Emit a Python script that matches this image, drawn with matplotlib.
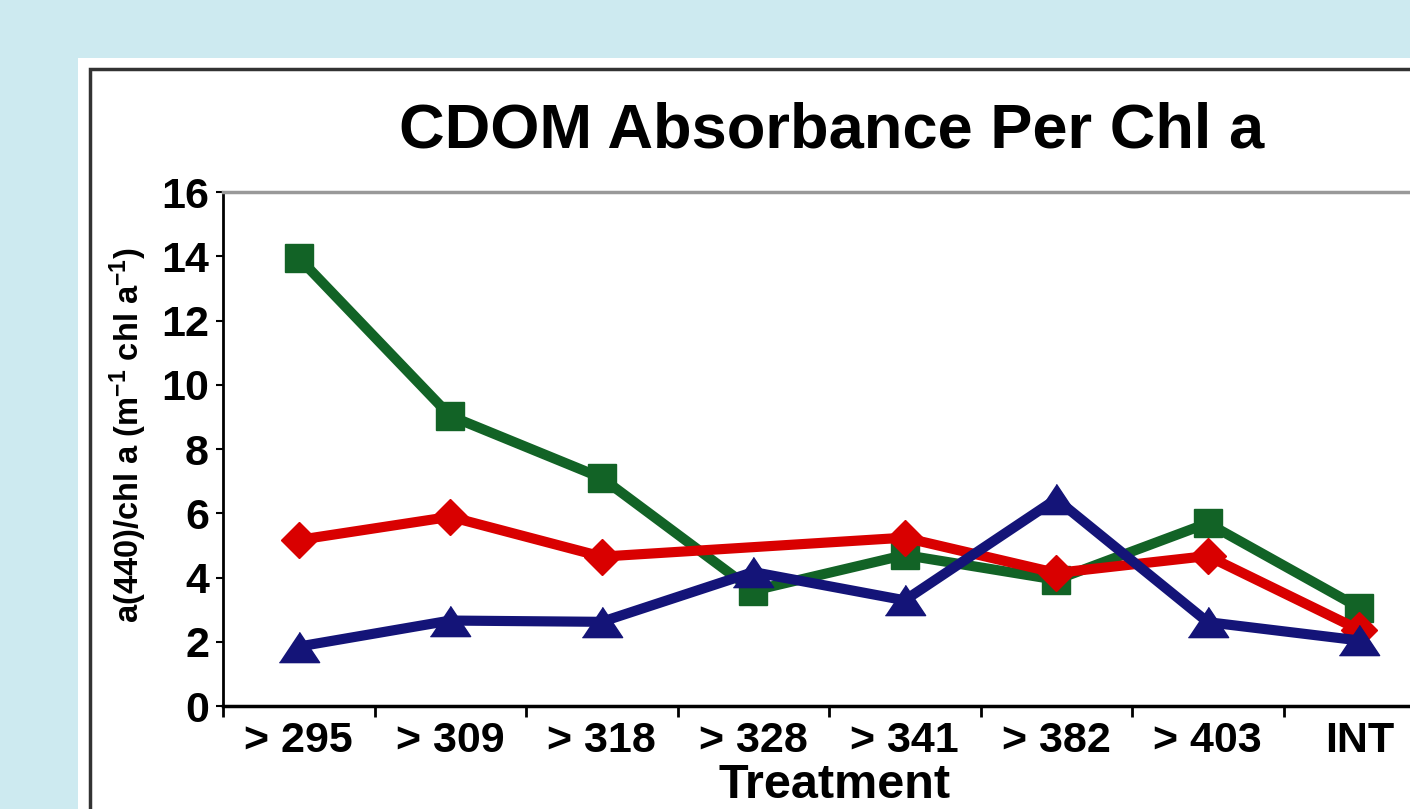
import numpy as np
import matplotlib
import matplotlib.pyplot as plt
from matplotlib.patches import Rectangle

matplotlib.use("Agg")

# data
treatments = ["> 295", "> 309", "> 318", "> 328", "> 341", "> 382", "> 403", "INT"]
green_vals = [13.95, 9.03, 7.10, 3.59, 4.70, 3.93, 5.69, 3.06]
red_vals = [5.17, 5.89, 4.65, np.nan, 5.24, 4.14, 4.67, 2.37]
blue_vals = [1.85, 2.66, 2.62, 4.17, 3.29, 6.44, 2.61, 2.04]
y_ticks = [0, 2, 4, 6, 8, 10, 12, 14, 16]

plt.rcParams["font.family"] = ["Liberation Sans", "DejaVu Sans"]
plt.rcParams["font.weight"] = "bold"
plt.rcParams["mathtext.default"] = "regular"

W, H = 1410, 809
fig = plt.figure(figsize=(W / 100, H / 100), dpi=100)
fig.patch.set_facecolor("#cdeaf0")

# white panel and dark frame (behind the axes)
fig.patches.append(Rectangle((78 / W, -0.1), 1.0, 1 - 58 / H + 0.1,
                             transform=fig.transFigure, facecolor="white",
                             edgecolor="none", zorder=-2))
fig.patches.append(Rectangle((90 / W, -0.1), 1.0, 1 - 69 / H + 0.1,
                             transform=fig.transFigure, facecolor="none",
                             edgecolor="#333333", lw=2.5, zorder=-1))

step = 151.5
ax = fig.add_axes([223 / W, 1 - 706 / H, 8 * step / W, (706 - 192) / H])
ax.set_facecolor("none")

x = np.arange(len(treatments))
tri = [(-1, -0.75), (1, -0.75), (0, 0.75)]

ax.plot(x, green_vals, color="#126326", lw=7.3, marker="s", ms=19.5,
        solid_joinstyle="miter", zorder=3, clip_on=False)
red = np.array(red_vals)
ok = ~np.isnan(red)
ax.plot(x[ok], red[ok], color="#d90000", lw=7.3, marker="D", ms=18.5,
        solid_joinstyle="miter", zorder=4, clip_on=False)
ax.plot(x, blue_vals, color="#141478", lw=7.3, marker=tri, ms=29,
        solid_joinstyle="miter", zorder=5, clip_on=False)

ax.set_xlim(-0.5, 7.5)
ax.set_ylim(0, 16)
ax.set_yticks(y_ticks)
ax.set_yticklabels([str(v) for v in y_ticks], fontsize=31, fontweight="bold")
ax.tick_params(axis="y", direction="out", length=5, width=1.5, pad=5)

ax.set_xticks(np.arange(-0.5, 8, 1))
ax.set_xticklabels([])
ax.tick_params(axis="x", which="major", direction="out", length=8, width=2)
ax.set_xticks(x, minor=True)
ax.set_xticklabels(treatments, minor=True, fontsize=31, fontweight="bold")
ax.tick_params(axis="x", which="minor", length=0, pad=11)

ax.spines["left"].set_linewidth(2)
ax.spines["bottom"].set_linewidth(2.5)
ax.spines["top"].set_color("#999999")
ax.spines["top"].set_linewidth(2.5)
ax.spines["right"].set_color("#999999")

fig.text(832 / W, 1 - 148 / H, "CDOM Absorbance Per Chl a", ha="center",
         va="baseline", fontsize=45.5, fontweight="bold")
fig.text(835 / W, 1 - 798 / H, "Treatment", ha="center", va="baseline",
         fontsize=35, fontweight="bold")
fig.text(128 / W, 1 - 435 / H, "a(440)/chl a (m$^{-1}$ chl a$^{-1}$)",
         rotation=90, ha="center", va="center", fontsize=23.5,
         fontweight="bold")

fig.savefig("out.png", dpi=100, facecolor=fig.get_facecolor())
